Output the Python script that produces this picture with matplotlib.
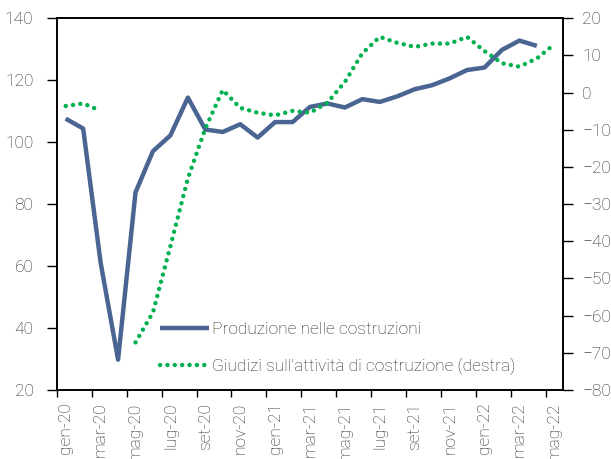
import matplotlib
matplotlib.use("Agg")
import matplotlib.pyplot as plt
from matplotlib.lines import Line2D
import numpy as np

plt.rcParams['font.family'] = ['Roboto', 'DejaVu Sans']
plt.rcParams['font.weight'] = 'light'

# mesi da gen-20 a mag-22
months = ["gen-20", "feb-20", "mar-20", "apr-20", "mag-20", "giu-20", "lug-20", "ago-20",
          "set-20", "ott-20", "nov-20", "dic-20", "gen-21", "feb-21", "mar-21", "apr-21",
          "mag-21", "giu-21", "lug-21", "ago-21", "set-21", "ott-21", "nov-21", "dic-21",
          "gen-22", "feb-22", "mar-22", "apr-22", "mag-22"]

# produzione nelle costruzioni (asse sinistro)
produzione = [107.6, 104.4, 61.1, 29.8, 83.8, 97.1, 102.2, 114.4, 104.1, 103.3,
              105.8, 101.5, 106.5, 106.5, 111.4, 112.5, 111.2, 113.9, 113.0, 114.8,
              117.1, 118.4, 120.6, 123.3, 124.1, 129.8, 132.8, 131.1, np.nan]

# giudizi sull'attivita (asse destro), apr-20 mancante
giudizi = [-3.6, -2.9, -4.9, np.nan, -67.2, -59.1, -41.3, -23.1, -9.6, 0.7,
           -4.1, -5.4, -6.1, -4.9, -5.4, -2.7, 2.9, 10.6, 15.0, 13.4,
           12.3, 13.2, 13.2, 15.0, 11.2, 7.9, 7.0, 9.2, 13.0]

label_prod = "Produzione nelle costruzioni"
label_giud = "Giudizi sull'attività di costruzione (destra)"

text_col = "#262626"
blue = "#4a6591"
green = "#00b050"
fs = 12.5

fig = plt.figure(figsize=(6.11, 4.59), dpi=100)
ax = fig.add_axes([57 / 611, 1 - 390 / 459, (563 - 57) / 611, (390 - 18.3) / 459])
ax2 = ax.twinx()

x = np.arange(len(months))
ax.plot(x, produzione, color=blue, lw=3.2, solid_capstyle='butt', zorder=3)
ax2.plot(x, giudizi, color=green, lw=3.2, linestyle=(0, (0.01, 1.65)),
         dash_capstyle='round', zorder=2)

ax.set_xlim(-0.5, len(months) - 0.5)
ax.set_ylim(20, 140)
ax.set_yticks(np.arange(20, 141, 20))
ax2.set_ylim(-80, 20)
ax2.set_yticks(np.arange(-80, 21, 10))

# tick tra le categorie, etichette al centro della categoria
ax.set_xticks(np.arange(-0.5, len(months) - 1, 2))
ax.set_xticklabels([])
ax.set_xticks(x[::2], minor=True)
ax.set_xticklabels(months[::2], minor=True, rotation=90, fontsize=fs, color=text_col)
ax.tick_params(axis='x', which='minor', length=0, pad=9)
ax.tick_params(axis='x', which='major', length=5, width=1, direction='out')

ax.tick_params(axis='y', length=7, width=1, pad=10, labelsize=fs, labelcolor=text_col)
ax2.tick_params(axis='y', length=7, width=1, pad=7, labelsize=fs, labelcolor=text_col)

for a in (ax, ax2):
    for s in a.spines.values():
        s.set_color("black")
        s.set_linewidth(1.2)

handles = [Line2D([], [], color=blue, lw=3.2, solid_capstyle='butt'),
           Line2D([], [], color=green, lw=3.2, linestyle=(0, (0.01, 1.65)),
                  dash_capstyle='round')]
leg = ax2.legend(handles, [label_prod, label_giud], loc='lower left',
                 bbox_to_anchor=((148 - 57) / 506, 0.008), frameon=False,
                 fontsize=fs, handlelength=2.8, handletextpad=0.2,
                 labelspacing=1.2, borderaxespad=0.3)
for t in leg.get_texts():
    t.set_color(text_col)

fig.savefig("out.png", dpi=100)
